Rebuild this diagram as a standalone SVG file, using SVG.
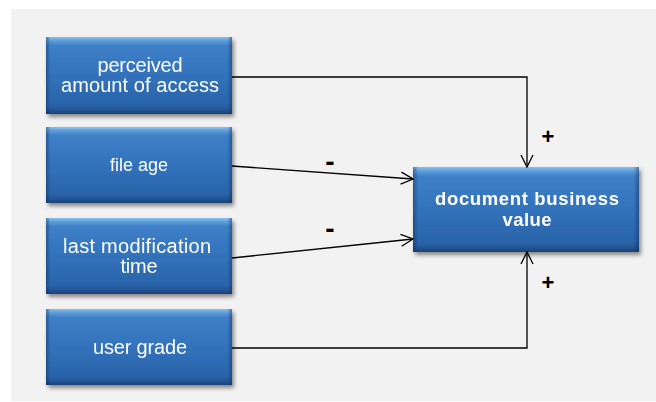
<svg xmlns="http://www.w3.org/2000/svg" width="656" height="402" viewBox="0 0 656 402">
  <defs>
    <linearGradient id="bodyV" x1="0" y1="0" x2="0" y2="1">
      <stop offset="0" stop-color="#8cc0ec"/>
      <stop offset="0.05" stop-color="#5d9ddb"/>
      <stop offset="0.11" stop-color="#3f80c7"/>
      <stop offset="0.5" stop-color="#3272bb"/>
      <stop offset="0.88" stop-color="#2a64aa"/>
      <stop offset="0.94" stop-color="#235797"/>
      <stop offset="1" stop-color="#1a4379"/>
    </linearGradient>
    <linearGradient id="edgeH" x1="0" y1="0" x2="1" y2="0">
      <stop offset="0" stop-color="#0d2d5a" stop-opacity="0.45"/>
      <stop offset="0.025" stop-color="#0d2d5a" stop-opacity="0"/>
      <stop offset="0.975" stop-color="#0d2d5a" stop-opacity="0"/>
      <stop offset="1" stop-color="#0d2d5a" stop-opacity="0.45"/>
    </linearGradient>
    <filter id="shadow" x="-10%" y="-10%" width="125%" height="130%">
      <feGaussianBlur in="SourceAlpha" stdDeviation="2"/>
      <feOffset dx="1.5" dy="2.5" result="b"/>
      <feComponentTransfer><feFuncA type="linear" slope="0.45"/></feComponentTransfer>
      <feMerge><feMergeNode/><feMergeNode in="SourceGraphic"/></feMerge>
    </filter>
    <marker id="open" viewBox="0 0 14 14" refX="13" refY="7" markerWidth="14" markerHeight="14" markerUnits="userSpaceOnUse" orient="auto">
      <path d="M1,1 L13,7 L1,13" fill="none" stroke="#000" stroke-width="1.3"/>
    </marker>
  </defs>
  <style>
    .body { fill: url(#bodyV); }
    .edge { fill: url(#edgeH); }
    .lbl { fill: #fff; font-family: "Liberation Sans", Arial, sans-serif; font-size: 20px; text-anchor: middle; }
    .bold { font-weight: bold; font-size: 18.5px; }
    .conn { fill: none; stroke: #000; stroke-width: 1.3; marker-end: url(#open); }
    .sign { fill: #000; font-family: "Liberation Sans", Arial, sans-serif; font-size: 22px; font-weight: bold; text-anchor: middle; }
    .minus { font-size: 28px; }
  </style>

  <!-- canvas -->
  <rect x="11" y="9" width="645" height="392" fill="#f2f2f2"/>

  <!-- factors -->
  <g id="node-access" filter="url(#shadow)">
    <rect class="body" x="46" y="37" width="186" height="77"/>
    <rect class="edge" x="46" y="37" width="186" height="77"/>
    <text class="lbl" x="140" y="72" textLength="85" lengthAdjust="spacing">perceived</text>
    <text class="lbl" x="140" y="92" textLength="158" lengthAdjust="spacing">amount of access</text>
  </g>
  <g id="node-age" filter="url(#shadow)">
    <rect class="body" x="46" y="127" width="186" height="76"/>
    <rect class="edge" x="46" y="127" width="186" height="76"/>
    <text class="lbl" x="139" y="171" style="font-size:18px">file age</text>
  </g>
  <g id="node-modtime" filter="url(#shadow)">
    <rect class="body" x="46" y="218" width="186" height="76"/>
    <rect class="edge" x="46" y="218" width="186" height="76"/>
    <text class="lbl" x="137" y="253" textLength="148" lengthAdjust="spacing">last modification</text>
    <text class="lbl" x="139" y="273" textLength="37" lengthAdjust="spacing">time</text>
  </g>
  <g id="node-grade" filter="url(#shadow)">
    <rect class="body" x="46" y="309" width="186" height="76"/>
    <rect class="edge" x="46" y="309" width="186" height="76"/>
    <text class="lbl" x="140" y="354" textLength="94" lengthAdjust="spacing">user grade</text>
  </g>

  <!-- result -->
  <g id="node-value" filter="url(#shadow)">
    <rect class="body" x="413" y="167" width="226" height="85"/>
    <rect class="edge" x="413" y="167" width="226" height="85"/>
    <text class="lbl bold" x="527" y="205" textLength="184" lengthAdjust="spacing">document business</text>
    <text class="lbl bold" x="527" y="226" textLength="49" lengthAdjust="spacing">value</text>
  </g>

  <!-- influences -->
  <g id="connectors">
    <path class="conn" d="M232,77 H527 V167"/>
    <path class="conn" d="M232,166 L413,179"/>
    <path class="conn" d="M232,258 L413,239"/>
    <path class="conn" d="M232,348 H527 V252"/>
    <text class="sign" x="548" y="144">+</text>
    <text class="sign" x="548" y="290">+</text>
    <text class="sign minus" x="330" y="171">-</text>
    <text class="sign minus" x="330" y="238">-</text>
  </g>
</svg>
